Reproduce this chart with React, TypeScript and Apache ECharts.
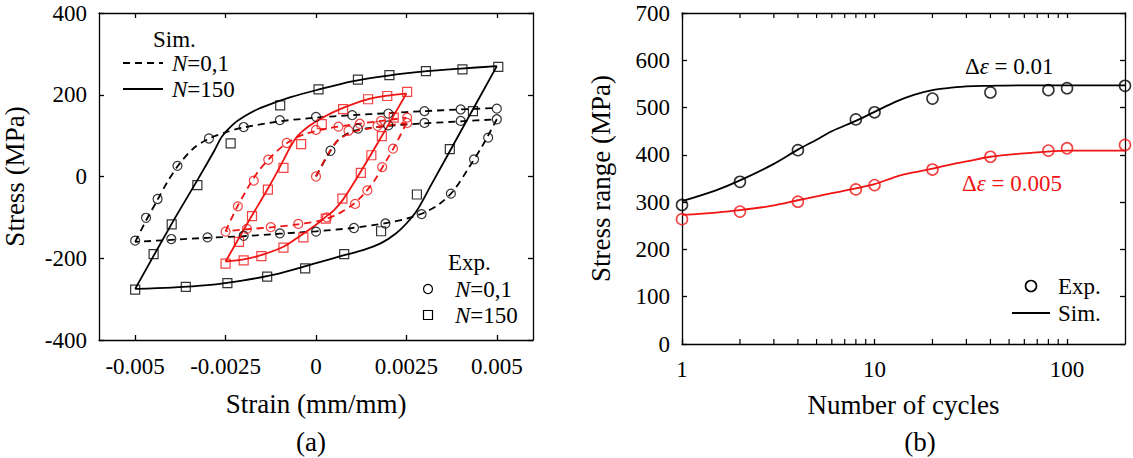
import React, { useEffect, useRef } from "react";
import * as echarts from "echarts";

// ---------------- Panel (a): hysteresis loops (strain, stress MPa) ----------------
// Δε = 0.01, simulation N=150 (solid black)
const simBlackN150Load = [[-0.005, -275], [-0.004, -117], [-0.0033, -12], [-0.0028, 65], [-0.0026, 98], [-0.0023, 127], [-0.002, 146], [-0.0016, 165], [-0.0012, 179], [-0.0007, 194], [0, 211], [0.001, 233], [0.002, 247], [0.003, 257], [0.004, 264], [0.005, 270]];
const simBlackN150Unload = [[0.005, 270], [0.004, 110], [0.0032, -18], [0.0028, -82], [0.0025, -115], [0.0022, -140], [0.0018, -163], [0.0013, -180], [0.0008, -192], [0, -212], [-0.001, -237], [-0.002, -254], [-0.003, -266], [-0.004, -272], [-0.005, -275]];
// Δε = 0.01, simulation N=0,1 (dashed black)
const simBlackN01Initial = [[0, 0], [0.0003, 48], [0.0006, 88], [0.001, 110], [0.0015, 119], [0.002, 124], [0.003, 130], [0.004, 135], [0.005, 140]];
const simBlackN01Unload = [[0.005, 140], [0.0046, 75], [0.0042, 18], [0.0038, -35], [0.0034, -68], [0.003, -88], [0.0025, -103], [0.002, -113], [0.001, -126], [0, -134], [-0.001, -140], [-0.002, -146], [-0.003, -150], [-0.004, -155], [-0.005, -160]];
const simBlackN01Reload = [[-0.005, -160], [-0.0047, -108], [-0.0044, -60], [-0.0041, -12], [-0.0038, 28], [-0.0034, 68], [-0.003, 91], [-0.0025, 108], [-0.002, 120], [-0.001, 135], [0, 144], [0.001, 150], [0.002, 155], [0.003, 160], [0.004, 164], [0.005, 168]];
// Δε = 0.005, simulation N=150 (solid red)
const simRedN150Load = [[-0.0025, -208], [-0.0019, -115], [-0.0013, -25], [-0.0009, 40], [-0.0007, 74], [-0.0005, 100], [-0.0002, 123], [0.0002, 145], [0.0007, 166], [0.0014, 188], [0.002, 198], [0.0025, 203]];
const simRedN150Unload = [[0.0025, 203], [0.0018, 96], [0.0011, -8], [0.00075, -56], [0.0005, -82], [0.00025, -100], [0, -118], [-0.0004, -143], [-0.0009, -172], [-0.0015, -192], [-0.002, -203], [-0.0025, -208]];
// Δε = 0.005, simulation N=0,1 (dashed red)
const simRedN01Initial = [[0, 0], [0.0003, 50], [0.0006, 88], [0.001, 108], [0.0015, 118], [0.002, 125], [0.0025, 131]];
const simRedN01Unload = [[0.0025, 131], [0.0022, 78], [0.0019, 32], [0.0016, -12], [0.0013, -45], [0.001, -70], [0.0006, -92], [0.0002, -106], [-0.0005, -117], [-0.0012, -124], [-0.0019, -129], [-0.0025, -134]];
const simRedN01Reload = [[-0.0025, -134], [-0.0022, -78], [-0.0019, -30], [-0.0016, 12], [-0.0012, 52], [-0.0008, 82], [-0.0003, 104], [0.0003, 117], [0.001, 127], [0.0018, 136], [0.0025, 144]];
// Experimental points
const expBlackN01 = [[0.0004, 63], [0.00116, 117], [0.002, 125], [0.003, 131], [0.004, 136], [0.005, 140], [0.00476, 95], [0.00437, 42], [0.00373, -42], [0.00292, -92], [0.00192, -115], [0.00105, -126], [0, -135], [-0.001, -139], [-0.002, -145], [-0.003, -149], [-0.004, -153], [-0.005, -157], [-0.0047, -101], [-0.00438, -55], [-0.00383, 26], [-0.00296, 93], [-0.002, 121], [-0.001, 138], [0, 146], [0.001, 150], [0.002, 154], [0.003, 160], [0.004, 164], [0.005, 166]];
const expBlackN150 = [[-0.005, -277], [-0.00449, -190], [-0.00399, -117], [-0.00328, -21], [-0.00236, 81], [-0.00099, 174], [0.00007, 213], [0.00116, 237], [0.00203, 248], [0.00304, 258], [0.00405, 262], [0.00504, 268], [0.00434, 160], [0.0037, 67], [0.00279, -44], [0.0018, -134], [0.00078, -190], [-0.0003, -225], [-0.00135, -245], [-0.00245, -261], [-0.0036, -270]];
const expRedN01 = [[0, 0], [0.0009, 112], [0.0017, 124], [0.00252, 131], [0.00213, 68], [0.00183, 23], [0.00142, -34], [0.00108, -67], [0.0003, -100], [-0.00049, -116], [-0.00125, -124], [-0.00191, -128], [-0.0025, -135], [-0.00216, -73], [-0.00172, -10], [-0.00132, 41], [-0.00081, 82], [0, 114], [0.00062, 122], [0.00121, 129], [0.0018, 136], [0.00252, 144]];
const expRedN150 = [[-0.0025, -213], [-0.00213, -160], [-0.00177, -97], [-0.00133, -32], [-0.0009, 21], [-0.00041, 79], [0.00016, 128], [0.00075, 165], [0.00144, 189], [0.00197, 197], [0.00252, 207], [0.00215, 144], [0.00182, 99], [0.00153, 52], [0.00124, 9], [0.00073, -54], [0.00027, -103], [-0.00035, -149], [-0.0009, -174], [-0.00151, -195], [-0.002, -205]];
const strainTicks = [-0.005, -0.0025, 0, 0.0025, 0.005];

// ---------------- Panel (b): stress range vs number of cycles ----------------
const expCycles = [1, 2, 4, 8, 10, 20, 40, 80, 100, 200];
const expRange001 = [294, 343, 410, 475, 490, 519, 532, 537, 541, 546];
const expRange0005 = [264, 280, 301, 327, 336, 369, 396, 409, 414, 421];
const simCycles = [1, 1.5, 2, 3, 4, 5, 6, 8, 10, 13, 16, 20, 25, 30, 40, 60, 100, 200];
const simRange001 = [302, 325, 346, 381, 411, 432, 450, 472, 491, 513, 527, 537, 542, 545, 546, 547, 547, 547];
const simRange0005 = [273, 278, 283, 293, 304, 312, 319, 329, 338, 354, 363, 371, 380, 386, 396, 403, 409, 409];
const minorCycleTicks = [2, 3, 4, 5, 6, 7, 8, 9, 20, 30, 40, 50, 60, 70, 80, 90];

const FONT = "'Liberation Serif', 'Times New Roman', serif";
const RED = "#f01414";
const BLACK = "#000";

const zip = (xs: number[], ys: number[]) => xs.map((x, i) => [x, ys[i]]);

export default function App() {
  const ref = useRef<HTMLDivElement>(null);

  useEffect(() => {
    if (!ref.current) return;
    const chart = echarts.init(ref.current, undefined, { renderer: "svg" });

    const axisLine = { show: true, onZero: false, lineStyle: { color: BLACK, width: 1.3 } };
    const tick = { show: true, inside: true, length: 5, lineStyle: { color: BLACK, width: 1.3 } };
    const label = { color: BLACK, fontFamily: FONT, fontSize: 23 };
    const nameStyle = { color: BLACK, fontFamily: FONT, fontSize: 27 };

    const simLine = (name: string, data: number[][], color: string, dashed: boolean, xi: number, yi: number, smooth: number) => ({
      name,
      type: "line",
      xAxisIndex: xi,
      yAxisIndex: yi,
      data,
      smooth,
      symbol: "none",
      showSymbol: false,
      lineStyle: { color, width: 1.8, type: dashed ? [7, 5] : "solid" },
      z: 3,
    });
    const expPts = (name: string, data: number[][], color: string, symbol: string, size: number, bw: number, xi: number, yi: number) => ({
      name,
      type: "scatter",
      xAxisIndex: xi,
      yAxisIndex: yi,
      data,
      symbol,
      symbolSize: size,
      itemStyle: { color: "rgba(0,0,0,0)", borderColor: color, borderWidth: bw },
      z: 4,
    });

    const txt = (x: number, y: number, text: string, size: number, color = BLACK, align = "left", rich?: any) => ({
      type: "text",
      x,
      y,
      style: {
        text,
        fill: color,
        fontFamily: FONT,
        fontSize: size,
        align,
        verticalAlign: "middle",
        rich,
      },
    });
    const italicRich = (size: number, color: string) => ({
      i: { fontStyle: "italic", fontFamily: FONT, fontSize: size, fill: color, color },
      n: { fontFamily: FONT, fontSize: size, fill: color, color },
    });

    chart.setOption({
      animation: false,
      backgroundColor: "#fff",
      textStyle: { fontFamily: FONT },
      grid: [
        { left: 95, top: 13, width: 438, height: 327, containLabel: false },
        { left: 682, top: 13, width: 443, height: 331, containLabel: false },
      ],
      xAxis: [
        {
          gridIndex: 0, type: "value", min: -0.006, max: 0.006, position: "bottom",
          axisLine, axisTick: { ...tick, customValues: strainTicks },
          axisLabel: { ...label, margin: 15, customValues: strainTicks, formatter: (v: number) => String(v) },
          splitLine: { show: false },
          name: "Strain (mm/mm)", nameLocation: "middle", nameGap: 50, nameTextStyle: nameStyle,
        },
        {
          gridIndex: 0, type: "value", min: -0.006, max: 0.006, position: "top",
          axisLine, axisTick: { ...tick, customValues: strainTicks },
          axisLabel: { show: false }, splitLine: { show: false },
        },
        {
          gridIndex: 1, type: "log", logBase: 10, min: 1, max: 200, position: "bottom",
          axisLine, axisTick: tick,
          axisLabel: {
            ...label, margin: 14, showMaxLabel: false,
            formatter: (v: number) => {
              const r = Math.round(v);
              return (r === 1 || r === 10 || r === 100) && Math.abs(v - r) < 1e-6 ? String(r) : "";
            },
          },
          splitLine: { show: false }, minorTick: { show: false },
          name: "Number of cycles", nameLocation: "middle", nameGap: 47, nameTextStyle: nameStyle,
        },
        {
          gridIndex: 1, type: "log", logBase: 10, min: 1, max: 200, position: "top",
          axisLine, axisTick: tick, axisLabel: { show: false }, splitLine: { show: false },
        },
      ],
      yAxis: [
        {
          gridIndex: 0, type: "value", min: -400, max: 400, interval: 200, position: "left",
          axisLine, axisTick: tick, axisLabel: { ...label, margin: 12 }, splitLine: { show: false },
          name: "Stress (MPa)", nameLocation: "middle", nameGap: 71, nameRotate: 90, nameTextStyle: nameStyle,
        },
        {
          gridIndex: 0, type: "value", min: -400, max: 400, interval: 200, position: "right",
          axisLine, axisTick: tick, axisLabel: { show: false }, splitLine: { show: false },
        },
        {
          gridIndex: 1, type: "value", min: 0, max: 700, interval: 100, position: "left",
          axisLine, axisTick: tick, axisLabel: { ...label, margin: 12 }, splitLine: { show: false },
          name: "Stress range (MPa)", nameLocation: "middle", nameGap: 68, nameRotate: 90, nameTextStyle: nameStyle,
        },
        {
          gridIndex: 1, type: "value", min: 0, max: 700, interval: 100, position: "right",
          axisLine, axisTick: tick, axisLabel: { show: false }, splitLine: { show: false },
        },
      ],
      series: [
        simLine("Sim N=150 Δε=0.01 load", simBlackN150Load, BLACK, false, 0, 0, 0.3),
        simLine("Sim N=150 Δε=0.01 unload", simBlackN150Unload, BLACK, false, 0, 0, 0.3),
        simLine("Sim N=0,1 Δε=0.01 initial", simBlackN01Initial, BLACK, true, 0, 0, 0.3),
        simLine("Sim N=0,1 Δε=0.01 unload", simBlackN01Unload, BLACK, true, 0, 0, 0.3),
        simLine("Sim N=0,1 Δε=0.01 reload", simBlackN01Reload, BLACK, true, 0, 0, 0.3),
        simLine("Sim N=150 Δε=0.005 load", simRedN150Load, RED, false, 0, 0, 0.3),
        simLine("Sim N=150 Δε=0.005 unload", simRedN150Unload, RED, false, 0, 0, 0.3),
        simLine("Sim N=0,1 Δε=0.005 initial", simRedN01Initial, RED, true, 0, 0, 0.3),
        simLine("Sim N=0,1 Δε=0.005 unload", simRedN01Unload, RED, true, 0, 0, 0.3),
        simLine("Sim N=0,1 Δε=0.005 reload", simRedN01Reload, RED, true, 0, 0, 0.3),
        expPts("Exp N=0,1 Δε=0.01", expBlackN01, BLACK, "circle", 9, 1.2, 0, 0),
        expPts("Exp N=150 Δε=0.01", expBlackN150, BLACK, "rect", 9, 1.2, 0, 0),
        expPts("Exp N=0,1 Δε=0.005", expRedN01, RED, "circle", 9, 1.2, 0, 0),
        expPts("Exp N=150 Δε=0.005", expRedN150, RED, "rect", 9, 1.2, 0, 0),
        // Panel (b)
        simLine("Sim Δε=0.01", zip(simCycles, simRange001), BLACK, false, 2, 2, 0.3),
        simLine("Sim Δε=0.005", zip(simCycles, simRange0005), RED, false, 2, 2, 0.3),
        expPts("Exp Δε=0.01", zip(expCycles, expRange001), BLACK, "circle", 11, 1.6, 2, 2),
        expPts("Exp Δε=0.005", zip(expCycles, expRange0005), RED, "circle", 11, 1.6, 2, 2),
        {
          name: "minor ticks",
          type: "custom",
          xAxisIndex: 2,
          yAxisIndex: 2,
          silent: true,
          data: minorCycleTicks.map((v) => [v, 0]),
          encode: { x: 0, y: 1 },
          renderItem: (_p: any, api: any) => {
            const v = api.value(0);
            const b = api.coord([v, 0]);
            const t = api.coord([v, 700]);
            const st = { stroke: BLACK, lineWidth: 1.2 };
            return {
              type: "group",
              children: [
                { type: "line", shape: { x1: b[0], y1: b[1], x2: b[0], y2: b[1] - 5 }, style: st },
                { type: "line", shape: { x1: t[0], y1: t[1], x2: t[0], y2: t[1] + 5 }, style: st },
              ],
            };
          },
        },
      ],
      graphic: [
        // Panel (a) legend: simulation
        txt(153, 39, "Sim.", 23),
        { type: "line", shape: { x1: 123, y1: 63, x2: 163, y2: 63 }, style: { stroke: BLACK, lineWidth: 1.8, lineDash: [7, 5] } },
        txt(172, 63, "{i|N}{n|=0,1}", 23, BLACK, "left", italicRich(23, BLACK)),
        { type: "line", shape: { x1: 123, y1: 89, x2: 163, y2: 89 }, style: { stroke: BLACK, lineWidth: 1.8 } },
        txt(172, 89, "{i|N}{n|=150}", 23, BLACK, "left", italicRich(23, BLACK)),
        // Panel (a) legend: experiment
        txt(448, 262, "Exp.", 23),
        { type: "circle", shape: { cx: 428, cy: 289, r: 4.5 }, style: { fill: "none", stroke: BLACK, lineWidth: 1.2 } },
        txt(455, 289, "{i|N}{n|=0,1}", 23, BLACK, "left", italicRich(23, BLACK)),
        { type: "rect", shape: { x: 423.5, y: 310.5, width: 9, height: 9 }, style: { fill: "none", stroke: BLACK, lineWidth: 1.2 } },
        txt(455, 315, "{i|N}{n|=150}", 23, BLACK, "left", italicRich(23, BLACK)),
        txt(311, 442, "(a)", 27, BLACK, "center"),
        // Panel (b) annotations and legend
        txt(965, 66, "{n|Δ}{i|ε}{n| = 0.01}", 23, BLACK, "left", italicRich(23, BLACK)),
        txt(962, 183, "{n|Δ}{i|ε}{n| = 0.005}", 23, RED, "left", italicRich(23, RED)),
        { type: "circle", shape: { cx: 1031, cy: 286, r: 5.5 }, style: { fill: "none", stroke: BLACK, lineWidth: 1.6 } },
        txt(1058, 286, "Exp.", 23),
        { type: "line", shape: { x1: 1012, y1: 313, x2: 1050, y2: 313 }, style: { stroke: BLACK, lineWidth: 1.8 } },
        txt(1058, 313, "Sim.", 23),
        txt(920, 442, "(b)", 27, BLACK, "center"),
      ],
    });

    return () => chart.dispose();
  }, []);

  return (
    <div
      ref={ref}
      style={{ position: "absolute", left: 0, top: 0, width: 1133, height: 458, background: "#fff" }}
    />
  );
}
